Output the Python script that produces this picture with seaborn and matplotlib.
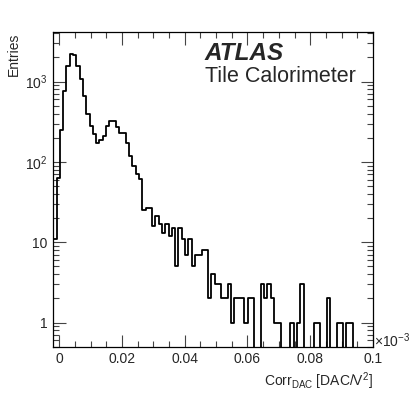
import numpy as np
import pandas as pd
import seaborn as sns
import matplotlib
matplotlib.use("Agg")
import matplotlib.pyplot as plt
from matplotlib.ticker import MultipleLocator, LogLocator, FixedLocator, FixedFormatter, NullFormatter

# histogram binning (x in units of 1e-3 DAC/V^2)
x_lo = -0.0019
bin_width = 0.00105
n_bins = 97

# entries per bin
counts = [11, 63, 250, 760, 1550, 2220, 2150, 1560, 1080, 660,
          400, 280, 222, 173, 185, 212, 278, 325, 325, 270,
          232, 228, 170, 117, 90, 70, 62, 25, 27, 27,
          16, 21, 17, 13, 17, 12, 15, 5, 15, 11,
          7, 11, 5, 7, 7, 8, 8, 2, 4, 3,
          3, 2, 2, 3, 1, 2, 2, 2, 1, 2,
          2, 0, 0, 3, 2, 3, 2, 1, 1, 0,
          0, 0, 1, 0, 1, 3, 0, 0, 0, 1,
          1, 0, 0, 2, 0, 0, 1, 1, 0, 1,
          1, 0, 0, 0, 0, 0, 0]

x_ticks = [0, 0.02, 0.04, 0.06, 0.08, 0.1]
x_tick_labels = ["0", "0.02", "0.04", "0.06", "0.08", "0.1"]
y_ticks = [1, 10, 100, 1000]
y_tick_labels = ["1", "10", "$10^{2}$", "$10^{3}$"]

centers = x_lo + bin_width * (np.arange(n_bins) + 0.5)
df = pd.DataFrame({"corr": centers, "entries": counts})

sns.set_style("ticks")
plt.rcParams["font.family"] = ["Liberation Sans", "DejaVu Sans"]
plt.rcParams["mathtext.fontset"] = "custom"
plt.rcParams["mathtext.rm"] = "Liberation Sans"
plt.rcParams["mathtext.it"] = "Liberation Sans:italic"

fig = plt.figure(figsize=(4.11, 3.94), dpi=100)
ax = fig.add_axes([0.1297, 0.12, 0.7778, 0.798])

sns.histplot(data=df, x="corr", weights="entries", binwidth=bin_width,
             binrange=(x_lo, x_lo + n_bins * bin_width), element="step", fill=False,
             color="black", linewidth=1.3, ax=ax)

ax.set_yscale("log")
ax.set_xlim(x_lo, 0.1)
ax.set_ylim(0.5, 4100)

# ROOT-like ticks
ax.xaxis.set_major_locator(FixedLocator(x_ticks))
ax.xaxis.set_major_formatter(FixedFormatter(x_tick_labels))
ax.xaxis.set_minor_locator(MultipleLocator(0.005))
ax.yaxis.set_major_locator(FixedLocator(y_ticks))
ax.yaxis.set_major_formatter(FixedFormatter(y_tick_labels))
ax.yaxis.set_minor_locator(LogLocator(base=10, subs=np.arange(2, 10)))
ax.yaxis.set_minor_formatter(NullFormatter())
ax.tick_params(which="both", direction="in", top=True, right=True,
               labelsize=10, color="#444444", width=0.8)
ax.tick_params(which="major", length=9, pad=4)
ax.tick_params(which="minor", length=4.5)
for s in ax.spines.values():
    s.set_linewidth(0.9)
    s.set_color("black")

ax.set_xlabel(r"Corr$_{\mathrm{DAC}}$ [DAC/V$^{2}$]", loc="right", fontsize=10, labelpad=3)
ax.set_ylabel("Entries", loc="top", fontsize=10, labelpad=3)

ax.text(1.003, 0.0, r"$\times10^{-3}$", transform=ax.transAxes, fontsize=10,
        ha="left", va="baseline")
ax.text(0.4745, 0.912, "ATLAS", transform=ax.transAxes, fontsize=17.5,
        fontweight="bold", fontstyle="italic", ha="left", va="baseline")
ax.text(0.4745, 0.842, "Tile Calorimeter", transform=ax.transAxes, fontsize=15.5,
        ha="left", va="baseline")

fig.savefig("out.png", dpi=100)
